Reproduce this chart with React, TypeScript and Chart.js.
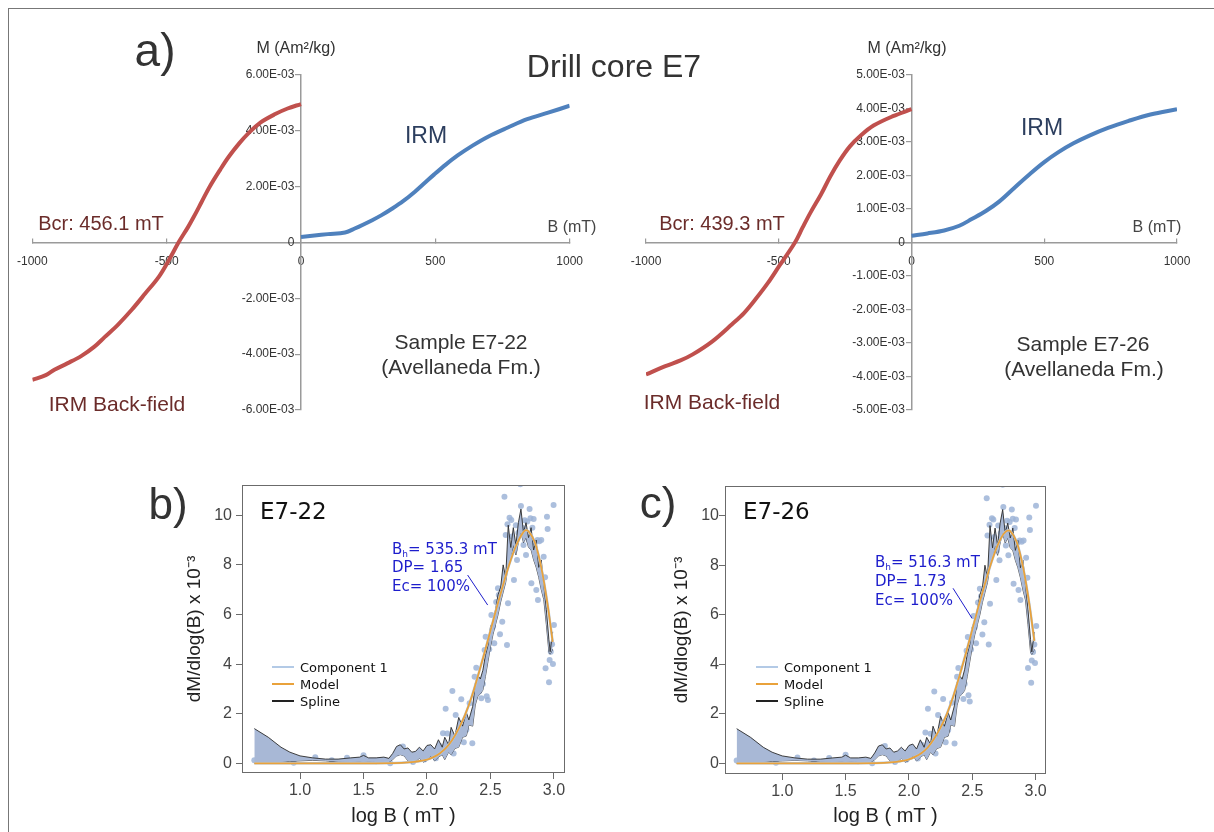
import React, { useEffect, useRef } from 'react';
import { Chart, registerables } from 'chart.js';

Chart.register(...registerables);
Chart.defaults.font.family = '"Liberation Sans", Arial, Helvetica, sans-serif';

const SANS = '"Liberation Sans", Arial, Helvetica, sans-serif';
const VERD = '"DejaVu Sans", Verdana, sans-serif';

// ---------------- Panel a: IRM acquisition / back-field ----------------
const B_TICKS = [-1000, -500, 0, 500, 1000];
const M_TICKS_E722 = [-6e-3, -4e-3, -2e-3, 0, 2e-3, 4e-3, 6e-3];
const M_TICKS_E726 = [-5e-3, -4e-3, -3e-3, -2e-3, -1e-3, 0, 1e-3, 2e-3, 3e-3, 4e-3, 5e-3];

const e722BackB = [-1000, -950, -918, -870, -817, -770, -731, -680, -630, -580, -528, -490, -456, -420, -399, -370, -341, -300, -269, -230, -197, -150, -96, -50, 0];
const e722BackM = [-4.92e-3, -4.75e-3, -4.56e-3, -4.33e-3, -4.06e-3, -3.74e-3, -3.39e-3, -2.93e-3, -2.41e-3, -1.83e-3, -1.21e-3, -0.6e-3, 0, 0.56e-3, 0.92e-3, 1.45e-3, 1.98e-3, 2.62e-3, 3.07e-3, 3.55e-3, 3.9e-3, 4.3e-3, 4.6e-3, 4.8e-3, 4.96e-3];
const e722IrmB = [0, 50, 100, 164, 200, 265, 300, 337, 380, 424, 460, 496, 540, 583, 640, 698, 770, 842, 920, 1000];
const e722IrmM = [0.2e-3, 0.25e-3, 0.3e-3, 0.36e-3, 0.5e-3, 0.8e-3, 0.98e-3, 1.2e-3, 1.48e-3, 1.82e-3, 2.13e-3, 2.44e-3, 2.8e-3, 3.12e-3, 3.48e-3, 3.8e-3, 4.12e-3, 4.42e-3, 4.65e-3, 4.9e-3];

const e726BackB = [-1000, -927, -870, -824, -750, -676, -630, -587, -540, -498, -439, -410, -380, -340, -306, -270, -232, -190, -143, -70, 0];
const e726BackM = [-3.94e-3, -3.69e-3, -3.52e-3, -3.34e-3, -2.95e-3, -2.44e-3, -2.1e-3, -1.69e-3, -1.2e-3, -0.7e-3, 0, 0.45e-3, 0.9e-3, 1.45e-3, 1.97e-3, 2.45e-3, 2.87e-3, 3.2e-3, 3.49e-3, 3.77e-3, 3.98e-3];
const e726IrmB = [0, 60, 123, 180, 227, 280, 330, 390, 448, 500, 552, 610, 670, 740, 818, 900, 1000];
const e726IrmM = [0.2e-3, 0.27e-3, 0.36e-3, 0.5e-3, 0.7e-3, 0.94e-3, 1.22e-3, 1.65e-3, 2.06e-3, 2.4e-3, 2.69e-3, 2.96e-3, 3.19e-3, 3.42e-3, 3.63e-3, 3.82e-3, 3.98e-3];

// ---------------- Panels b, c: MAX UnMix gradient plots ----------------
const LOGB_TICKS = [1.0, 1.5, 2.0, 2.5, 3.0];
const DMDB_TICKS = [0, 2, 4, 6, 8, 10];

const b_scatterLogB = [0.64, 0.95, 1.12, 1.25, 1.37, 1.5, 1.6, 1.71, 1.76, 1.81, 1.89, 1.93, 1.98, 2.03, 2.07, 2.1, 2.126, 2.147, 2.16, 2.2, 2.21, 2.226, 2.25, 2.27, 2.29, 2.31, 2.336, 2.357, 2.375, 2.388, 2.41, 2.428, 2.44, 2.454, 2.462, 2.47, 2.48, 2.49, 2.507, 2.52, 2.53, 2.545, 2.559, 2.565, 2.575, 2.593, 2.61, 2.62, 2.63, 2.634, 2.638, 2.65, 2.664, 2.67, 2.685, 2.69, 2.7, 2.709, 2.72, 2.735, 2.74, 2.75, 2.76, 2.77, 2.78, 2.79, 2.8, 2.808, 2.815, 2.822, 2.83, 2.84, 2.85, 2.861, 2.87, 2.874, 2.885, 2.9, 2.919, 2.93, 2.934, 2.945, 2.95, 2.961, 2.966, 2.975, 2.985, 2.992, 2.997, 3.0];
const b_scatterVal = [0.12, 0.02, 0.24, 0.12, 0.22, 0.33, 0.08, 0.0, 0.4, 0.68, 0.05, 0.3, 0.15, 0.45, 0.2, 0.7, 1.21, 2.2, 1.2, 2.92, 0.4, 1.95, 1.1, 2.58, 0.85, 1.35, 2.42, 0.81, 3.49, 3.85, 2.9, 2.62, 3.2, 4.57, 5.1, 2.7, 2.55, 4.6, 5.98, 5.51, 4.84, 6.5, 7.06, 6.79, 5.2, 5.71, 10.75, 9.2, 4.77, 9.64, 6.45, 9.9, 9.81, 9.14, 7.39, 8.6, 9.6, 8.2, 9.3, 11.25, 10.37, 9.5, 8.8, 9.8, 8.4, 9.75, 9.0, 10.25, 9.88, 7.26, 9.5, 9.85, 8.9, 6.99, 9.0, 6.58, 8.95, 9.0, 8.33, 7.5, 3.83, 9.94, 9.45, 3.27, 4.17, 4.5, 4.8, 4.0, 10.41, 5.58];

const b_splineLogB = [0.64, 0.75, 0.85, 0.92, 1.0, 1.1, 1.2, 1.3, 1.4, 1.47, 1.5, 1.54, 1.6, 1.66, 1.7, 1.73, 1.76, 1.79, 1.82, 1.85, 1.88, 1.91, 1.94, 1.97, 2.0, 2.03, 2.06, 2.09, 2.12, 2.14, 2.17, 2.19, 2.22, 2.25, 2.28, 2.31, 2.33, 2.36, 2.38, 2.4, 2.42, 2.44, 2.46, 2.48, 2.5, 2.52, 2.54, 2.56, 2.58, 2.6, 2.62, 2.64, 2.66, 2.68, 2.7, 2.72, 2.74, 2.76, 2.78, 2.8, 2.82, 2.84, 2.86, 2.88, 2.9, 2.92, 2.94, 2.96, 2.97, 2.99];
const b_splineUpper = [1.4, 1.05, 0.65, 0.45, 0.3, 0.22, 0.17, 0.17, 0.22, 0.25, 0.32, 0.22, 0.22, 0.25, 0.2, 0.4, 0.68, 0.75, 0.58, 0.62, 0.45, 0.48, 0.65, 0.5, 0.72, 0.75, 0.58, 0.95, 0.65, 1.05, 0.75, 1.45, 1.1, 1.85, 1.5, 2.05, 1.75, 2.3, 3.2, 3.55, 3.4, 3.75, 4.35, 4.75, 5.5, 5.7, 6.2, 6.8, 7.1, 8.0, 7.5, 9.6, 8.7, 9.5, 8.8, 9.7, 10.25, 9.3, 9.7, 9.1, 9.5, 8.6, 9.0, 7.9, 8.2, 7.2, 6.2, 5.0, 4.5, 5.3];
const b_splineLower = [0.0, 0.02, 0.05, 0.08, 0.1, 0.12, 0.1, 0.06, 0.05, 0.06, 0.05, 0.06, 0.05, 0.04, 0.05, 0.15, 0.3, 0.35, 0.3, 0.1, 0.02, 0.08, 0.2, 0.05, 0.12, 0.3, 0.1, 0.25, 0.35, 0.15, 0.45, 0.35, 0.6, 0.65, 1.05, 1.1, 1.55, 1.5, 2.35, 2.7, 2.8, 2.95, 3.5, 4.1, 4.7, 5.2, 5.6, 6.0, 6.5, 6.9, 7.3, 8.0, 8.3, 8.8, 8.4, 8.9, 9.3, 8.9, 9.1, 8.7, 8.6, 8.2, 7.9, 7.5, 7.0, 6.6, 5.6, 4.5, 4.4, 4.6];

const b_modelLogB = [0.64, 1.0, 1.5, 1.8, 1.9, 2.0, 2.05, 2.1, 2.15, 2.2, 2.25, 2.3, 2.35, 2.4, 2.45, 2.5, 2.55, 2.6, 2.65, 2.7, 2.75, 2.78, 2.8, 2.85, 2.9, 2.95, 2.99];
const b_modelVal = [0, 0, 0, 0.02, 0.06, 0.15, 0.25, 0.4, 0.62, 0.95, 1.4, 1.95, 2.65, 3.5, 4.4, 5.35, 6.3, 7.2, 8.05, 8.75, 9.25, 9.4, 9.35, 8.9, 7.9, 6.4, 4.9];

const c_scatterLogB = [0.64, 0.95, 1.12, 1.25, 1.37, 1.5, 1.6, 1.71, 1.76, 1.81, 1.89, 1.93, 1.98, 2.03, 2.07, 2.1, 2.13, 2.15, 2.17, 2.2, 2.21, 2.23, 2.25, 2.27, 2.29, 2.31, 2.34, 2.36, 2.38, 2.39, 2.41, 2.43, 2.44, 2.455, 2.465, 2.47, 2.48, 2.49, 2.51, 2.52, 2.53, 2.545, 2.56, 2.57, 2.58, 2.595, 2.614, 2.62, 2.63, 2.636, 2.64, 2.655, 2.666, 2.675, 2.69, 2.695, 2.705, 2.715, 2.725, 2.74, 2.745, 2.755, 2.765, 2.775, 2.785, 2.795, 2.805, 2.812, 2.82, 2.826, 2.835, 2.845, 2.855, 2.865, 2.875, 2.88, 2.89, 2.905, 2.925, 2.935, 2.94, 2.95, 2.955, 2.965, 2.97, 2.98, 2.99, 2.995, 3.003, 3.005];
const c_scatterVal = [0.12, 0.02, 0.24, 0.12, 0.22, 0.35, 0.08, 0.0, 0.45, 0.7, 0.05, 0.3, 0.15, 0.45, 0.2, 0.75, 1.25, 2.2, 1.2, 2.9, 0.4, 1.95, 1.1, 2.6, 0.85, 1.35, 2.45, 0.8, 3.5, 3.85, 2.95, 2.6, 3.2, 4.55, 5.1, 2.75, 2.5, 4.6, 5.95, 5.5, 4.85, 6.5, 7.05, 6.75, 5.2, 5.7, 10.71, 9.2, 4.8, 9.64, 6.45, 9.9, 9.85, 9.14, 7.4, 8.6, 9.6, 8.2, 9.3, 11.25, 10.35, 9.5, 8.8, 9.8, 8.4, 9.75, 9.0, 10.25, 9.88, 7.25, 9.5, 9.85, 8.9, 7.0, 9.0, 6.6, 8.95, 9.0, 8.3, 7.5, 3.85, 9.93, 9.42, 3.25, 4.15, 4.5, 4.8, 4.05, 10.4, 5.55];

const c_splineLogB = [0.64, 0.75, 0.85, 0.92, 1.0, 1.1, 1.2, 1.3, 1.4, 1.47, 1.5, 1.54, 1.6, 1.66, 1.7, 1.73, 1.76, 1.79, 1.82, 1.85, 1.88, 1.91, 1.94, 1.97, 2.0, 2.03, 2.06, 2.09, 2.12, 2.14, 2.17, 2.19, 2.22, 2.25, 2.28, 2.31, 2.33, 2.36, 2.38, 2.4, 2.42, 2.44, 2.46, 2.48, 2.5, 2.52, 2.54, 2.56, 2.58, 2.6, 2.62, 2.64, 2.66, 2.68, 2.7, 2.72, 2.74, 2.76, 2.78, 2.8, 2.82, 2.84, 2.86, 2.88, 2.9, 2.92, 2.94, 2.96, 2.97, 2.99];
const c_splineUpper = [1.4, 1.05, 0.65, 0.45, 0.3, 0.22, 0.17, 0.17, 0.22, 0.25, 0.33, 0.22, 0.22, 0.25, 0.2, 0.42, 0.7, 0.75, 0.58, 0.62, 0.45, 0.5, 0.65, 0.5, 0.72, 0.78, 0.58, 0.95, 0.65, 1.05, 0.78, 1.5, 1.1, 1.9, 1.5, 2.05, 1.75, 2.35, 3.25, 3.55, 3.4, 3.8, 4.4, 4.8, 5.5, 5.75, 6.2, 6.8, 7.1, 8.0, 7.5, 9.6, 8.7, 9.5, 8.8, 9.7, 10.25, 9.3, 9.7, 9.1, 9.5, 8.6, 9.0, 7.9, 8.2, 7.2, 6.2, 5.0, 4.5, 5.3];
const c_splineLower = [0.0, 0.02, 0.05, 0.08, 0.1, 0.12, 0.1, 0.06, 0.05, 0.06, 0.05, 0.06, 0.05, 0.04, 0.05, 0.15, 0.3, 0.35, 0.3, 0.1, 0.02, 0.08, 0.2, 0.05, 0.12, 0.3, 0.1, 0.25, 0.35, 0.15, 0.45, 0.35, 0.6, 0.65, 1.05, 1.1, 1.55, 1.5, 2.35, 2.7, 2.8, 2.95, 3.5, 4.1, 4.7, 5.2, 5.6, 6.0, 6.5, 6.9, 7.3, 8.0, 8.3, 8.8, 8.4, 8.9, 9.3, 8.9, 9.1, 8.7, 8.6, 8.2, 7.9, 7.5, 7.0, 6.6, 5.6, 4.5, 4.4, 4.6];

const c_modelLogB = [0.64, 1.0, 1.5, 1.8, 1.9, 2.0, 2.05, 2.1, 2.15, 2.2, 2.25, 2.3, 2.35, 2.4, 2.45, 2.5, 2.55, 2.6, 2.65, 2.7, 2.75, 2.785, 2.8, 2.85, 2.9, 2.95, 2.99];
const c_modelVal = [0, 0, 0, 0.02, 0.06, 0.16, 0.27, 0.42, 0.65, 1.0, 1.45, 2.0, 2.7, 3.55, 4.45, 5.4, 6.35, 7.25, 8.1, 8.8, 9.28, 9.41, 9.38, 8.95, 7.95, 6.45, 4.95];

// leader lines of the annotation boxes, in data units [x0, y0, x1, y1]
const b_leader = [2.32, 7.59, 2.478, 6.38];
const c_leader = [2.348, 7.07, 2.498, 5.86];

const RED = '#C0504D';
const BLUE = '#4F81BD';
const ORANGE = '#E9A23B';
const COMP = '#B3CAE6';
const FILL = '#A8B8D6';
const DOTS = 'rgba(158,180,215,0.85)';
const ANNO = '#1d1dcc';

function pts(xs: number[], ys: number[]) {
  return xs.map((x, i) => ({ x, y: ys[i] }));
}

function sci(v: number) {
  if (Math.abs(v) < 1e-12) return '0';
  const [m, e] = v.toExponential(2).split('e');
  const n = parseInt(e, 10);
  return m + 'E' + (n < 0 ? '-' : '+') + String(Math.abs(n)).padStart(2, '0');
}

type IrmProps = {
  left: number; top: number; width: number; height: number;
  pad: { left: number; right: number; top: number; bottom: number };
  yMax: number; yTicks: number[];
  backB: number[]; backM: number[]; irmB: number[]; irmM: number[];
};

function IrmPanel(p: IrmProps) {
  const ref = useRef<HTMLCanvasElement>(null);
  useEffect(() => {
    const axisColor = '#9a9a9a';
    const chart = new Chart(ref.current as HTMLCanvasElement, {
      type: 'scatter',
      data: {
        datasets: [
          { data: pts(p.backB, p.backM), showLine: true, borderColor: RED, borderWidth: 4, pointRadius: 0, tension: 0.35 } as any,
          { data: pts(p.irmB, p.irmM), showLine: true, borderColor: BLUE, borderWidth: 4, pointRadius: 0, tension: 0.35 } as any,
        ],
      },
      options: {
        responsive: false,
        animation: false,
        events: [],
        layout: { padding: p.pad },
        plugins: { legend: { display: false }, tooltip: { enabled: false } },
        scales: {
          x: {
            type: 'linear', min: -1000, max: 1000, position: { y: 0 } as any,
            afterBuildTicks: (s: any) => { s.ticks = B_TICKS.map((v) => ({ value: v })); },
            ticks: { callback: (v: any) => String(v), color: '#333', font: { size: 12 }, padding: 17, maxRotation: 0, autoSkip: false },
            grid: { drawOnChartArea: false, drawTicks: true, tickLength: -5, color: axisColor, lineWidth: 1.2 },
            border: { color: axisColor, width: 1.5 },
          },
          y: {
            type: 'linear', min: -p.yMax, max: p.yMax, position: { x: 0 } as any,
            afterBuildTicks: (s: any) => { s.ticks = p.yTicks.map((v) => ({ value: v })); },
            ticks: { callback: (v: any) => sci(Number(v)) + '  ', color: '#333', font: { size: 12 }, autoSkip: false },
            grid: { drawOnChartArea: false, drawTicks: true, tickLength: 5, color: axisColor, lineWidth: 1.2 },
            border: { color: axisColor, width: 1.5 },
          },
        },
      },
    });
    return () => chart.destroy();
  }, []);
  return (
    <canvas ref={ref} width={p.width} height={p.height}
      style={{ position: 'absolute', left: p.left, top: p.top, width: p.width, height: p.height }} />
  );
}

type UnmixProps = {
  left: number; top: number; width: number; height: number;
  pad: { left: number; right: number; top: number; bottom: number };
  yAxisW: number; xAxisH: number; yTickPad: number;
  xMin: number; xMax: number; yMin: number; yMax: number;
  sX: number[]; sY: number[];
  spX: number[]; spU: number[]; spL: number[];
  mX: number[]; mY: number[];
  leader: number[];
};

function UnmixPanel(p: UnmixProps) {
  const ref = useRef<HTMLCanvasElement>(null);
  useEffect(() => {
    const frame = {
      id: 'frame',
      afterDraw(chart: any) {
        const { ctx, chartArea: a } = chart;
        ctx.save();
        ctx.strokeStyle = '#6b6b6b';
        ctx.lineWidth = 1;
        ctx.strokeRect(Math.round(a.left) + 0.5, Math.round(a.top) + 0.5, Math.round(a.right - a.left) - 1, Math.round(a.bottom - a.top) - 1);
        ctx.restore();
      },
    };
    const leader = {
      id: 'leader',
      afterDatasetsDraw(chart: any) {
        const { ctx, scales } = chart;
        ctx.save();
        ctx.strokeStyle = ANNO;
        ctx.lineWidth = 1;
        ctx.beginPath();
        ctx.moveTo(scales.x.getPixelForValue(p.leader[0]), scales.y.getPixelForValue(p.leader[1]));
        ctx.lineTo(scales.x.getPixelForValue(p.leader[2]), scales.y.getPixelForValue(p.leader[3]));
        ctx.stroke();
        ctx.restore();
      },
    };
    const chart = new Chart(ref.current as HTMLCanvasElement, {
      type: 'scatter',
      data: {
        datasets: [
          { label: 'Model', data: pts(p.mX, p.mY), showLine: true, borderColor: ORANGE, borderWidth: 1.8, pointRadius: 0, cubicInterpolationMode: 'monotone' } as any,
          { label: 'Component 1', data: pts(p.mX, p.mY), showLine: true, borderColor: COMP, borderWidth: 2.5, pointRadius: 0, cubicInterpolationMode: 'monotone' } as any,
          { label: 'Spline', data: pts(p.spX, p.spU), showLine: true, borderColor: '#2a2a2a', borderWidth: 0.9, pointRadius: 0, fill: '+1', backgroundColor: FILL } as any,
          { label: 'Spline lower', data: pts(p.spX, p.spL), showLine: true, borderColor: '#2a2a2a', borderWidth: 0.8, pointRadius: 0, fill: false } as any,
          { label: 'Data', data: pts(p.sX, p.sY), showLine: false, pointRadius: 3, backgroundColor: DOTS, borderWidth: 0 } as any,
        ],
      },
      options: {
        responsive: false,
        animation: false,
        events: [],
        layout: { padding: p.pad },
        plugins: { legend: { display: false }, tooltip: { enabled: false } },
        scales: {
          x: {
            type: 'linear', min: p.xMin, max: p.xMax, position: 'bottom',
            afterBuildTicks: (s: any) => { s.ticks = LOGB_TICKS.map((v) => ({ value: v })); },
            afterFit: (s: any) => { s.height = p.xAxisH; },
            ticks: { callback: (v: any) => Number(v).toFixed(1), color: '#444', font: { size: 16 }, padding: 2, maxRotation: 0, autoSkip: false },
            grid: { drawOnChartArea: false, drawTicks: true, tickLength: 6, color: '#6b6b6b' },
            border: { display: false },
            title: { display: true, text: 'log B ( mT )', color: '#222', font: { size: 20 }, padding: { top: 0, bottom: 4 } },
          },
          y: {
            type: 'linear', min: p.yMin, max: p.yMax, position: 'left',
            afterBuildTicks: (s: any) => { s.ticks = DMDB_TICKS.map((v) => ({ value: v })); },
            afterFit: (s: any) => { s.width = p.yAxisW; },
            ticks: { callback: (v: any) => String(v), color: '#444', font: { size: 16 }, padding: p.yTickPad, autoSkip: false },
            grid: { drawOnChartArea: false, drawTicks: true, tickLength: 6, color: '#6b6b6b' },
            border: { display: false },
            title: { display: true, text: 'dM/dlog(B) x 10⁻³', color: '#222', font: { size: 19 }, padding: { top: 4, bottom: 0 } },
          },
        },
      },
      plugins: [frame, leader],
    });
    return () => chart.destroy();
  }, []);
  return (
    <canvas ref={ref} width={p.width} height={p.height}
      style={{ position: 'absolute', left: p.left, top: p.top, width: p.width, height: p.height }} />
  );
}

function T(props: { x: number; y: number; size: number; color?: string; family?: string; align?: 'left' | 'center'; children: any }) {
  const { x, y, size, color = '#333', family = SANS, align = 'center', children } = props;
  return (
    <div style={{
      position: 'absolute', left: x, top: y, transform: `translate(${align === 'center' ? '-50%' : '0'}, -50%)`,
      fontSize: size, color, fontFamily: family, lineHeight: 1, whiteSpace: 'nowrap',
    }}>{children}</div>
  );
}

function LegendRow(props: { x: number; y: number; color: string; text: string }) {
  return (
    <>
      <div style={{ position: 'absolute', left: props.x, top: props.y - 0.75, width: 22, height: 1.5, background: props.color }} />
      <T x={props.x + 28} y={props.y} size={13} color="#111" family={VERD} align="left">{props.text}</T>
    </>
  );
}

const sub = { fontSize: '0.6em', position: 'relative' as const, top: '0.3em' };

export default function App() {
  const brown = '#6b2c2a';
  const navy = '#2c3e5e';
  return (
    <div style={{ position: 'absolute', left: 0, top: 0, width: 1214, height: 832, background: '#fff', overflow: 'hidden' }}>
      <div style={{ position: 'absolute', left: 8, top: 8, right: -4, bottom: -4, borderTop: '1px solid #777', borderLeft: '1px solid #777' }} />

      <IrmPanel left={0} top={40} width={600} height={400}
        pad={{ left: 29, right: 23, top: 35, bottom: 30 }}
        yMax={6e-3} yTicks={M_TICKS_E722}
        backB={e722BackB} backM={e722BackM} irmB={e722IrmB} irmM={e722IrmM} />
      <IrmPanel left={610} top={40} width={600} height={400}
        pad={{ left: 36, right: 33, top: 35, bottom: 30 }}
        yMax={5e-3} yTicks={M_TICKS_E726}
        backB={e726BackB} backM={e726BackM} irmB={e726IrmB} irmM={e726IrmM} />

      <UnmixPanel left={150} top={470} width={420} height={362}
        pad={{ left: 29, right: 5, top: 15, bottom: 0 }} yAxisW={63} xAxisH={59} yTickPad={4}
        xMin={0.543} xMax={3.087} yMin={-0.39} yMax={11.22}
        sX={b_scatterLogB} sY={b_scatterVal} spX={b_splineLogB} spU={b_splineUpper} spL={b_splineLower}
        mX={b_modelLogB} mY={b_modelVal} leader={b_leader} />
      <UnmixPanel left={620} top={470} width={430} height={362}
        pad={{ left: 46, right: 4, top: 16, bottom: 0 }} yAxisW={59} xAxisH={58} yTickPad={0}
        xMin={0.548} xMax={3.082} yMin={-0.43} yMax={11.2}
        sX={c_scatterLogB} sY={c_scatterVal} spX={c_splineLogB} spU={c_splineUpper} spL={c_splineLower}
        mX={c_modelLogB} mY={c_modelVal} leader={c_leader} />

      {/* panel a texts */}
      <T x={155} y={50} size={46}>a)</T>
      <T x={614} y={66} size={32}>Drill core E7</T>
      <T x={296} y={48} size={16}>M (Am²/kg)</T>
      <T x={907} y={48} size={16}>M (Am²/kg)</T>
      <T x={426} y={135} size={23} color={navy}>IRM</T>
      <T x={1042} y={127} size={23} color={navy}>IRM</T>
      <T x={101} y={223} size={20} color={brown}>Bcr: 456.1 mT</T>
      <T x={722} y={223} size={20} color={brown}>Bcr: 439.3 mT</T>
      <T x={572} y={227} size={16} color="#444">B (mT)</T>
      <T x={1157} y={227} size={16} color="#444">B (mT)</T>
      <T x={461} y={341} size={21}>Sample E7-22</T>
      <T x={461} y={366} size={21}>(Avellaneda Fm.)</T>
      <T x={1083} y={343} size={21}>Sample E7-26</T>
      <T x={1084} y={368} size={21}>(Avellaneda Fm.)</T>
      <T x={117} y={403} size={21} color={brown}>IRM Back-field</T>
      <T x={712} y={401} size={21} color={brown}>IRM Back-field</T>

      {/* panel b texts */}
      <T x={168} y={504} size={44}>b)</T>
      <T x={260} y={511} size={23} color="#111" family={VERD} align="left">E7-22</T>
      <T x={392} y={549} size={15} color={ANNO} family={VERD} align="left">B<span style={sub}>h</span>= 535.3 mT</T>
      <T x={392} y={567} size={15} color={ANNO} family={VERD} align="left">DP= 1.65</T>
      <T x={392} y={586} size={15} color={ANNO} family={VERD} align="left">Ec= 100%</T>
      <LegendRow x={272} y={667} color={COMP} text="Component 1" />
      <LegendRow x={272} y={684} color={ORANGE} text="Model" />
      <LegendRow x={272} y={701} color="#222" text="Spline" />

      {/* panel c texts */}
      <T x={658} y={503} size={44}>c)</T>
      <T x={743} y={511} size={23} color="#111" family={VERD} align="left">E7-26</T>
      <T x={875} y={562} size={15} color={ANNO} family={VERD} align="left">B<span style={sub}>h</span>= 516.3 mT</T>
      <T x={875} y={581} size={15} color={ANNO} family={VERD} align="left">DP= 1.73</T>
      <T x={875} y={600} size={15} color={ANNO} family={VERD} align="left">Ec= 100%</T>
      <LegendRow x={756} y={667} color={COMP} text="Component 1" />
      <LegendRow x={756} y={684} color={ORANGE} text="Model" />
      <LegendRow x={756} y={701} color="#222" text="Spline" />
    </div>
  );
}
